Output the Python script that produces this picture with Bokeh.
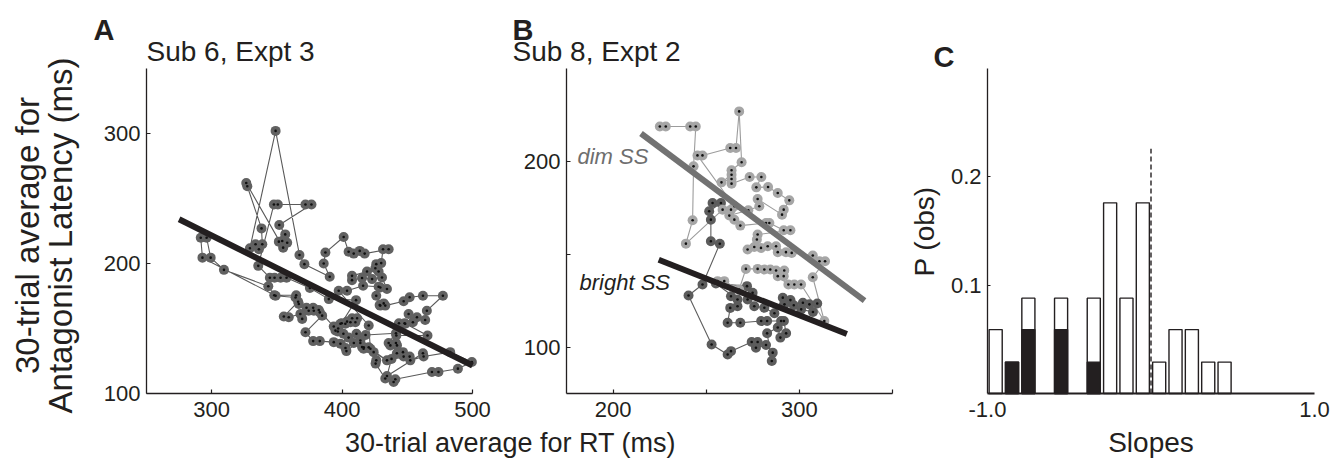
import numpy as np
from bokeh.plotting import figure
from bokeh.models import Label, FixedTicker, Range1d, LinearAxis, CustomJSTickFormatter, PrintfTickFormatter
from bokeh.embed import file_html
from bokeh.resources import INLINE

FONT = "Liberation Sans"
INK = "#231f20"
W, H = 1338, 460

# ---------------- Panel A data (Sub 6, Expt 3) ----------------
a_rt = [429.3, 426.2, 428.8, 431.9, 429.3, 433.1, 447.2, 451.8, 462.0, 477.3,
        465.0, 463.7, 457.4, 451.0, 454.3, 448.4, 443.6, 447.9, 465.5, 441.6,
        437.0, 442.1, 446.7, 452.3, 462.5, 482.9, 499.5, 488.8, 473.9, 468.9,
        440.8, 439.5, 433.1, 425.7, 426.2, 424.2, 434.4, 420.4, 416.6, 414.0,
        409.0, 402.6, 398.7, 393.6, 382.9, 377.8, 371.9, 384.7, 382.9, 378.3,
        374.4, 369.4, 368.0, 359.1, 355.3, 366.3, 364.8, 348.0, 343.4, 309.4,
        299.2, 296.1, 291.6, 292.9, 349.0, 364.3, 366.8, 372.7, 377.8, 382.1,
        393.6, 396.7, 394.9, 398.7, 402.5, 406.4, 410.2, 411.5, 407.7, 403.8,
        399.7, 403.3, 414.0, 415.3, 416.5, 421.7, 420.4, 397.4, 403.8, 416.1,
        428.0, 434.4, 430.6, 423.0, 415.3, 407.6, 407.6, 419.1, 428.0, 425.5,
        426.2, 430.0, 431.4, 435.7, 417.3, 413.5, 408.9, 405.0, 401.2, 387.2,
        385.9, 390.5, 371.1, 367.3, 349.0, 329.3, 333.6, 336.2, 338.8, 338.2,
        327.3, 326.5, 354.8, 351.5, 354.1, 357.9, 356.4, 351.8, 376.5, 371.9,
        350.7, 347.7, 335.7, 344.6, 348.2, 352.8, 357.4, 375.3, 389.8, 410.7,
        397.0, 401.0, 405.0, 411.0, 418.0, 441.3, 435.7, 441.3, 442.0, 447.2,
        451.8, 437.9, 434.4, 462.0]
a_lat = [181.6, 175.2, 168.0, 169.3, 167.6, 167.6, 171.0, 174.0, 175.2, 175.2,
         163.7, 156.6, 158.6, 161.2, 154.8, 153.6, 154.0, 154.0, 144.6, 144.6,
         137.0, 137.0, 131.8, 125.5, 128.5, 131.8, 124.2, 119.1, 116.5, 116.5,
         110.9, 108.9, 111.5, 123.0, 125.5, 131.8, 125.5, 135.5, 135.5, 138.9,
         138.9, 135.0, 138.3, 139.5, 140.3, 140.3, 147.1, 159.9, 162.4, 163.7,
         163.7, 157.4, 161.2, 158.6, 159.2, 170.6, 175.6, 175.6, 182.5, 195.1,
         204.5, 219.8, 219.8, 204.5, 175.2, 173.9, 168.9, 166.0, 166.0, 164.2,
         151.5, 147.7, 148.4, 153.6, 153.6, 154.8, 154.8, 157.9, 157.9, 155.3,
         154.0, 132.6, 140.8, 135.7, 134.4, 134.4, 152.3, 179.0, 179.0, 182.9,
         182.1, 180.4, 189.2, 188.0, 188.8, 187.2, 190.5, 193.8, 193.8, 196.4,
         199.5, 200.3, 211.0, 211.0, 207.6, 209.7, 207.6, 209.1, 220.4, 208.4,
         200.0, 189.8, 199.5, 206.6, 302.0, 211.7, 214.8, 211.0, 214.8, 227.0,
         259.4, 261.9, 212.2, 216.8, 217.3, 216.0, 222.4, 229.6, 245.4, 245.4,
         245.4, 245.4, 198.2, 189.1, 189.1, 189.1, 189.1, 181.2, 172.6, 171.8,
         150.0, 146.0, 143.0, 146.0, 145.0, 146.4, 138.9, 138.9, 131.0, 128.4,
         128.4, 126.6, 113.5, 131.0]
a_fit_rt = [275.0, 500.0]
a_fit_lat = [234.0, 121.5]
a_xticks = [300, 400, 500]
a_yticks = [100, 200, 300]

# ---------------- Panel B data (Sub 8, Expt 2) ----------------
b_dim_rt = [225.1, 228.3, 241.4, 244.4, 243.2, 242.7, 239.1, 258.8, 263.3, 265.1,
            245.3, 248.0, 262.9, 266.0, 267.7, 269.0, 263.6, 263.6, 258.2, 263.6,
            263.6, 273.3, 279.6, 276.9, 283.2, 288.4, 294.6, 291.6, 290.7, 277.6,
            278.5, 272.6, 262.4, 265.1, 268.3, 282.1, 283.9, 291.6, 295.2, 277.6,
            277.2, 272.2, 275.8, 279.4, 283.0, 287.5, 288.4, 292.8, 295.9, 307.2,
            310.8, 313.8, 307.2, 313.4, 300.9, 297.3, 294.1, 288.4, 291.6, 291.9,
            287.5, 284.4, 281.2, 277.6, 271.3, 267.7, 259.7, 256.1]
b_dim_lat = [218.8, 218.8, 218.8, 218.8, 197.3, 168.3, 155.7, 174.0, 174.0, 175.8,
             203.2, 203.2, 207.2, 207.2, 226.9, 199.5, 195.2, 192.8, 188.7, 190.5,
             188.0, 191.6, 191.6, 186.0, 186.2, 183.0, 179.0, 174.0, 171.3, 179.7,
             175.8, 173.7, 170.8, 168.6, 165.4, 166.8, 166.8, 162.9, 162.9, 160.6,
             157.9, 152.5, 153.9, 153.4, 154.3, 154.3, 151.1, 151.1, 150.7, 149.3,
             146.2, 146.2, 137.6, 114.0, 133.7, 133.7, 133.7, 138.2, 138.2, 141.2,
             141.2, 141.8, 141.8, 142.1, 142.1, 131.0, 135.5, 135.5]
b_bright_rt = [253.4, 257.9, 251.6, 252.5, 252.5, 257.3, 248.0, 240.5, 252.9, 261.5,
               263.3, 274.4, 277.6, 276.7, 282.1, 285.7, 285.2, 282.7, 288.4, 289.8,
               292.9, 291.7, 290.2, 282.7, 279.5, 268.3, 261.5, 262.9, 266.8, 263.3,
               266.8, 255.2, 271.9, 274.9, 272.2, 275.8, 281.2, 286.6, 291.1, 295.2,
               292.0, 297.0, 301.9, 305.4, 309.6, 307.3, 301.0]
b_bright_lat = [177.6, 177.6, 173.1, 168.6, 157.0, 155.6, 133.7, 127.8, 101.4, 96.0,
                97.8, 102.7, 102.7, 99.6, 101.1, 97.0, 92.5, 107.4, 110.5, 105.1,
                107.4, 114.0, 114.0, 114.0, 114.0, 113.1, 113.1, 121.1, 122.0, 127.4,
                125.6, 134.2, 132.8, 129.2, 125.6, 122.0, 121.2, 118.2, 126.6, 125.3,
                123.0, 122.5, 123.9, 123.0, 123.5, 118.9, 120.3]
b_dim_fit_rt = [215.0, 335.0]
b_dim_fit_lat = [215.0, 125.0]
b_bright_fit_rt = [224.5, 325.5]
b_bright_fit_lat = [147.0, 107.0]
b_xticks = [200, 250, 300, 350]
b_yticks = [100, 150, 200]

# ---------------- Panel C data (slopes histogram) ----------------
c_bins = [-0.95, -0.85, -0.75, -0.65, -0.55, -0.45, -0.35, -0.25, -0.15, -0.05,
          0.05, 0.15, 0.25, 0.35, 0.45, 0.55, 0.65, 0.75, 0.85, 0.95]
c_all = [0.059, 0.029, 0.088, 0.0, 0.088, 0.0, 0.088, 0.176, 0.088, 0.176,
         0.029, 0.059, 0.059, 0.029, 0.029, 0.0, 0.0, 0.0, 0.0, 0.0]
c_sub = [0.0, 0.029, 0.059, 0.0, 0.059, 0.0, 0.029, 0.0, 0.0, 0.0,
         0.0, 0.0, 0.0, 0.0, 0.0, 0.0, 0.0, 0.0, 0.0, 0.0]
c_ref_x = 0.0
c_ref_top = 0.226
c_xticks = [-1.0, 1.0]
c_yticks = [0.1, 0.2]


def rng(d0, d1, p0, p1, total):
    """Range over the whole canvas so that data d0->pixel p0 and d1->pixel p1."""
    s = (p1 - p0) / (d1 - d0)
    return Range1d(d0 - p0 / s, d0 + (total - p0) / s)


# panel frames in page pixels (left, right, top, bottom)
A_BOX = (146, 472, 68, 393)
B_BOX = (566, 892, 68, 393)
C_BOX = (987, 1314, 68, 393)
A_X, A_Y = (250, 500), (100, 350)
B_X, B_Y = (175, 350), (75, 250)
C_X, C_Y = (-1.0, 1.0), (0.0, 0.3)

p = figure(width=W, height=H, x_range=Range1d(0, W), y_range=Range1d(0, H),
           output_backend="svg", toolbar_location=None,
           x_axis_location=None, y_axis_location=None,
           min_border_left=0, min_border_right=0, min_border_top=0, min_border_bottom=0)
p.outline_line_color = None
p.background_fill_color = "white"
p.border_fill_color = "white"
for g in p.grid:
    g.visible = False

p.extra_x_ranges = {
    "ax": rng(A_X[0], A_X[1], A_BOX[0], A_BOX[1], W),
    "bx": rng(B_X[0], B_X[1], B_BOX[0], B_BOX[1], W),
    "cx": rng(C_X[0], C_X[1], C_BOX[0], C_BOX[1], W),
}
p.extra_y_ranges = {
    "ay": rng(A_Y[0], A_Y[1], H - A_BOX[3], H - A_BOX[2], H),
    "by": rng(B_Y[0], B_Y[1], H - B_BOX[3], H - B_BOX[2], H),
    "cy": rng(C_Y[0], C_Y[1], H - C_BOX[3], H - C_BOX[2], H),
}


def style_axis(ax, size="22px", tick_in=4):
    ax.axis_line_color = INK
    ax.axis_line_width = 1.3
    ax.major_tick_line_color = INK
    ax.major_tick_line_width = 1.2
    ax.major_tick_in = tick_in
    ax.major_tick_out = 0
    ax.minor_tick_line_color = None
    ax.major_label_text_font = FONT
    ax.major_label_text_font_size = size
    ax.major_label_text_color = INK


def add_axes(xn, yn, xr, yr, xticks, yticks, xfmt=None, yfmt=None, size="22px",
             xtick_in=4, ytick_in=4, xwidth=1.3):
    xa = LinearAxis(x_range_name=xn, y_range_name=yn, fixed_location=yr[0], bounds=xr,
                    ticker=FixedTicker(ticks=xticks))
    ya = LinearAxis(x_range_name=xn, y_range_name=yn, fixed_location=xr[0], bounds=yr,
                    ticker=FixedTicker(ticks=yticks))
    style_axis(xa, size, xtick_in)
    style_axis(ya, size, ytick_in)
    xa.axis_line_width = xwidth
    xa.major_label_standoff = 8
    ya.major_label_standoff = 6
    if xfmt is not None:
        xa.formatter = xfmt
    if yfmt is not None:
        ya.formatter = yfmt
    p.add_layout(xa, "below")
    p.add_layout(ya, "left")


def text(px, py, s, size, style="normal", color=INK, align="left", rotated=False):
    # px, py: page pixel position of the text baseline (from top-left corner)
    fs = float(size.replace("px", ""))
    shift = 0.35 * fs  # renderer draws "alphabetic" text slightly low; compensate
    if rotated:
        x, y, ang = px - shift, H - py, np.pi / 2
    else:
        x, y, ang = px, H - py + shift, 0.0
    p.add_layout(Label(x=x, y=y, text=s, text_font=FONT, text_font_size=size,
                       text_font_style=style, text_color=color, text_align=align,
                       text_baseline="alphabetic", angle=ang))


# ---------------- Panel A ----------------
add_axes("ax", "ay", A_X, A_Y, a_xticks, a_yticks)
ka = dict(x_range_name="ax", y_range_name="ay")
p.line(a_rt, a_lat, line_color="#5a5a5a", line_width=1.1, **ka)
p.scatter(a_rt, a_lat, size=10, fill_color="#616161", line_color=None, **ka)
p.scatter(a_rt, a_lat, size=2.6, fill_color="#111111", line_color=None, **ka)
p.line(a_fit_rt, a_fit_lat, line_color=INK, line_width=6, **ka)
text(93, 40, "A", "29px", style="bold")
text(146, 61, "Sub 6, Expt 3", "28px")
text(39, 235, "30-trial average for", "33px", align="center", rotated=True)
text(72, 235, "Antagonist Latency (ms)", "33px", align="center", rotated=True)
text(510, 452, "30-trial average for RT (ms)", "27px", align="center")

# ---------------- Panel B ----------------
blank = "return (tick == 150 || tick == 250 || tick == 350) ? '' : tick.toFixed(0);"
add_axes("bx", "by", B_X, B_Y, b_xticks, b_yticks,
         xfmt=CustomJSTickFormatter(code=blank), yfmt=CustomJSTickFormatter(code=blank))
kb = dict(x_range_name="bx", y_range_name="by")
p.line(b_bright_rt, b_bright_lat, line_color="#5e5e5e", line_width=1.1, **kb)
p.line(b_dim_rt, b_dim_lat, line_color="#9c9c9c", line_width=1.1, **kb)
p.scatter(b_bright_rt, b_bright_lat, size=10, fill_color="#5c5c5c", line_color=None, **kb)
p.scatter(b_dim_rt, b_dim_lat, size=10, fill_color="#a6a6a6", line_color=None, **kb)
p.scatter(b_bright_rt, b_bright_lat, size=2.6, fill_color="#111111", line_color=None, **kb)
p.scatter(b_dim_rt, b_dim_lat, size=2.6, fill_color="#111111", line_color=None, **kb)
p.line(b_dim_fit_rt, b_dim_fit_lat, line_color="#727272", line_width=6, **kb)
p.line(b_bright_fit_rt, b_bright_fit_lat, line_color=INK, line_width=6, **kb)
text(512, 40, "B", "29px", style="bold")
text(512, 61, "Sub 8, Expt 2", "28px")
text(577, 164, "dim SS", "22px", style="italic", color="#6e6e6e")
text(579, 290, "bright SS", "22px", style="italic")

# ---------------- Panel C ----------------
add_axes("cx", "cy", C_X, C_Y, c_xticks, c_yticks,
         xfmt=PrintfTickFormatter(format="%.1f"), yfmt=PrintfTickFormatter(format="%.1f"),
         xtick_in=0, ytick_in=3, xwidth=2)
kc = dict(x_range_name="cx", y_range_name="cy")
nz = [i for i, v in enumerate(c_all) if v > 0]
p.vbar(x=[c_bins[i] for i in nz], top=[c_all[i] for i in nz], width=0.08, bottom=0,
       fill_color="white", line_color=INK, line_width=1.4, **kc)
nzs = [i for i, v in enumerate(c_sub) if v > 0]
p.vbar(x=[c_bins[i] for i in nzs], top=[c_sub[i] for i in nzs], width=0.08, bottom=0,
       fill_color=INK, line_color=INK, line_width=1.4, **kc)
p.line([c_ref_x, c_ref_x], [0.0, c_ref_top], line_color=INK, line_width=1.4,
       line_dash="5 3", **kc)
text(933, 67, "C", "29px", style="bold")
text(934, 231, "P (obs)", "28px", align="center", rotated=True)
text(1150.5, 452, "Slopes", "28px", align="center")

open("out.html", "w").write(file_html(p, INLINE))
